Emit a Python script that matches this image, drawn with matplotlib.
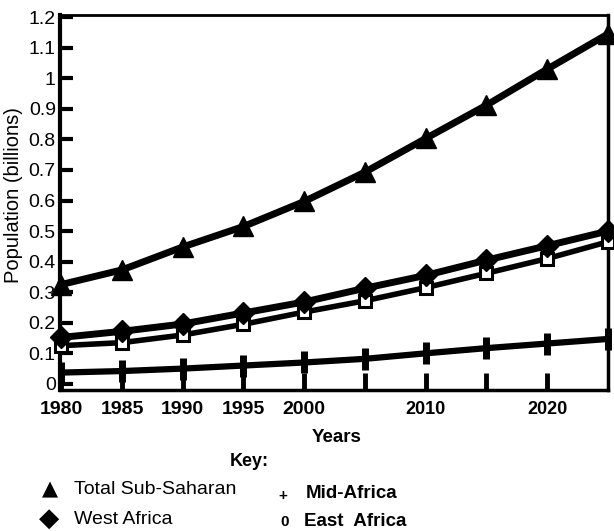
import matplotlib
matplotlib.use("Agg")
import matplotlib.pyplot as plt
from matplotlib import font_manager

years = [1980, 1985, 1990, 1995, 2000, 2005, 2010, 2015, 2020, 2025]
total_sub_saharan = [0.325, 0.373, 0.448, 0.515, 0.597, 0.693, 0.803, 0.912, 1.03, 1.145]
west_africa = [0.152, 0.172, 0.196, 0.232, 0.268, 0.313, 0.355, 0.405, 0.452, 0.50]
east_africa = [0.125, 0.135, 0.160, 0.195, 0.235, 0.272, 0.315, 0.362, 0.41, 0.465]
mid_africa = [0.037, 0.042, 0.050, 0.060, 0.070, 0.082, 0.100, 0.117, 0.132, 0.147]

x_ticks = [1980, 1985, 1990, 1995, 2000, 2005, 2010, 2015, 2020]
x_tick_labels = ["1980", "1985", "1990", "1995", "2000", "", "2010", "", "2020"]
y_ticks = [0, 0.1, 0.2, 0.3, 0.4, 0.5, 0.6, 0.7, 0.8, 0.9, 1.0, 1.1, 1.2]
y_tick_labels = ["0", "0.1", "0.2", "0.3", "0.4", "0.5", "0.6", "0.7", "0.8", "0.9", "1", "1.1", "1.2"]

names = {f.name for f in font_manager.fontManager.ttflist}
REG = "Liberation Sans" if "Liberation Sans" in names else "DejaVu Sans"
NARROW = "Liberation Sans Narrow" if "Liberation Sans Narrow" in names else REG

W, H = 614, 531
fig = plt.figure(figsize=(W / 100, H / 100), dpi=100)
ax = fig.add_axes([60 / W, 1 - 390 / H, (608 - 60) / W, (390 - 15) / H])

ax.plot(years, mid_africa, color="black", lw=4.5, marker="|", ms=16, mew=5,
        solid_capstyle="butt", clip_on=False, zorder=3)
ax.plot(years, east_africa, color="black", lw=4, marker="s", ms=9,
        mfc="white", mec="black", mew=2.2, clip_on=False, zorder=4)
ax.plot(years, west_africa, color="black", lw=5, marker="D", ms=11,
        clip_on=False, zorder=5)
ax.plot(years, total_sub_saharan, color="black", lw=5, marker="^", ms=14,
        clip_on=False, zorder=6)

ax.set_xlim(1979.9, 2025)
ax.set_ylim(-0.02, 1.207)

ax.set_xticks(x_ticks)
ax.set_xticklabels(x_tick_labels, fontsize=14, fontweight="bold", family=REG)
for lab in ax.get_xticklabels():
    if lab.get_text() in ("2010", "2020"):
        lab.set_family(NARROW)
        lab.set_fontsize(13)
ax.set_yticks(y_ticks)
ax.set_yticklabels(y_tick_labels, fontsize=14, family=REG)

ax.tick_params(axis="x", direction="in", length=12, width=3.5, pad=8, color="black")
ax.tick_params(axis="y", direction="in", length=9, width=3, pad=3, color="black")

ax.spines["left"].set_linewidth(3)
ax.spines["bottom"].set_linewidth(2.5)
ax.spines["top"].set_linewidth(2)
ax.spines["right"].set_linewidth(2.5)

fig.text(14 / W, 1 - 195 / H, "Population (billions)", rotation=90,
         ha="center", va="center", fontsize=14.5, family=REG)
fig.text(337 / W, 1 - 438 / H, "Years", ha="center", va="center",
         fontsize=13.5, fontweight="bold", family=NARROW)
fig.text(249 / W, 1 - 461 / H, "Key:", ha="center", va="center",
         fontsize=13, fontweight="bold", family=NARROW)

fig.text(50 / W, 1 - 489 / H, "\u25b2", ha="center", va="center",
         fontsize=15, family="DejaVu Sans")
fig.text(49 / W, 1 - 519 / H, "\u25c6", ha="center", va="center",
         fontsize=19, family="DejaVu Sans")
fig.text(74 / W, 1 - 490 / H, "Total Sub-Saharan", ha="left", va="center",
         fontsize=14, family=REG)
fig.text(74 / W, 1 - 520 / H, "West Africa", ha="left", va="center",
         fontsize=14, family=REG)

fig.text(283 / W, 1 - 496 / H, "+", ha="center", va="center",
         fontsize=11, fontweight="bold", family=REG)
fig.text(285 / W, 1 - 522 / H, "0", ha="center", va="center",
         fontsize=11, fontweight="bold", family=REG)
fig.text(306 / W, 1 - 494 / H, "Mid-Africa", ha="left", va="center",
         fontsize=13.5, fontweight="bold", family=REG)
fig.text(304 / W, 1 - 522 / H, "East  Africa", ha="left", va="center",
         fontsize=13.5, fontweight="bold", family=REG)

fig.savefig("out.png", dpi=100, facecolor="white")
